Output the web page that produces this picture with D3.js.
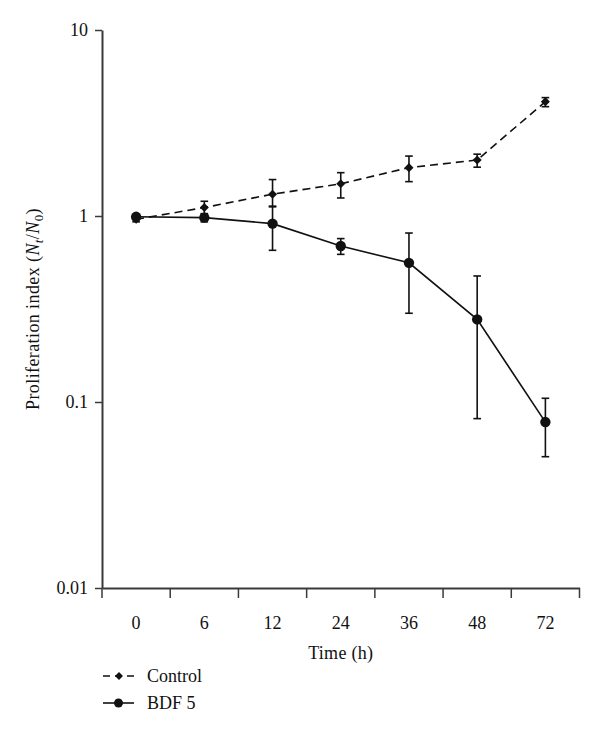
<!DOCTYPE html>
<html><head><meta charset="utf-8">
<script src="https://cdn.jsdelivr.net/npm/d3@7"></script>
<style>body{margin:0;background:#fff}</style>
</head><body>
<svg id="c" width="600" height="734"></svg>
<script>
const categories = ["0","6","12","24","36","48","72"];
const controlMean = [0.96,1.11,1.31,1.49,1.82,2.0,4.12];
const controlLow  = [0.93,1.02,1.12,1.25,1.53,1.83,3.87];
const controlHigh = [0.99,1.20,1.57,1.71,2.10,2.15,4.33];
const bdfMean = [0.99,0.98,0.91,0.69,0.56,0.278,0.078];
const bdfLow  = [0.97,0.93,0.654,0.622,0.30,0.0814,0.0508];
const bdfHigh = [1.01,1.03,1.13,0.756,0.81,0.476,0.1047];
const yTicks = [0.01,0.1,1,10];
const yTickLabels = ["0.01","0.1","1","10"];

(function(){
const svg = d3.select("#c");
const font = "'Liberation Serif', 'DejaVu Serif', serif";
const fs = 18;
const mLeft=102, mRight=579.5, mTop=30, mBottom=588;
const x = d3.scaleBand().domain(categories).range([mLeft,mRight]);
const y = d3.scaleLog().domain([0.01,10]).range([mBottom,mTop]);
const axisColor="#3a3a3a";
const ink="#111";

// y axis
const ya = svg.append("g").attr("transform",`translate(${mLeft},0)`)
  .call(d3.axisLeft(y).tickValues(yTicks).tickFormat((d,i)=>yTickLabels[i]).tickSize(7).tickPadding(7).tickSizeOuter(0));
ya.select(".domain").attr("stroke",axisColor).attr("stroke-width",2);
ya.selectAll(".tick line").attr("stroke",axisColor).attr("stroke-width",1.5);
ya.selectAll("text").attr("font-family",font).attr("font-size",fs).attr("fill",ink);

// x axis
const xa = svg.append("g").attr("transform",`translate(0,${mBottom})`)
  .call(d3.axisBottom(x).tickSize(0).tickPadding(28).tickSizeOuter(0));
xa.select(".domain").attr("stroke",axisColor).attr("stroke-width",2);
xa.selectAll("text").attr("font-family",font).attr("font-size",fs).attr("fill",ink);
const bounds = categories.map(c=>x(c)).concat([x(categories[categories.length-1])+x.bandwidth()]);
svg.append("g").selectAll("line").data(bounds).join("line")
  .attr("x1",d=>d).attr("x2",d=>d).attr("y1",mBottom).attr("y2",mBottom+10)
  .attr("stroke",axisColor).attr("stroke-width",1.5);

const cx = c => x(c)+x.bandwidth()/2;

// axis titles
svg.append("text").attr("x",(mLeft+mRight)/2).attr("y",659).attr("text-anchor","middle")
  .attr("font-family",font).attr("font-size",fs).attr("letter-spacing",0.3).attr("fill",ink).text("Time (h)");
const yl = svg.append("text").attr("transform",`translate(39,${(mTop+mBottom)/2}) rotate(-90)`)
  .attr("text-anchor","middle").attr("font-family",font).attr("font-size",fs).attr("letter-spacing",0.4).attr("fill",ink);
yl.append("tspan").text("Proliferation index (");
yl.append("tspan").attr("font-style","italic").text("N");
yl.append("tspan").attr("font-style","italic").attr("font-size",13).attr("dy",4).text("t");
yl.append("tspan").attr("dy",-4).text("/");
yl.append("tspan").attr("font-style","italic").text("N");
yl.append("tspan").attr("font-size",13).attr("dy",4).text("0");
yl.append("tspan").attr("dy",-4).text(")");

function drawErr(lows, highs){
  const g = svg.append("g").attr("stroke",ink).attr("stroke-width",1.6);
  categories.forEach((c,i)=>{
    const px = cx(c);
    g.append("line").attr("x1",px).attr("x2",px).attr("y1",y(lows[i])).attr("y2",y(highs[i]));
    [lows[i],highs[i]].forEach(v=>g.append("line").attr("x1",px-3.8).attr("x2",px+3.8).attr("y1",y(v)).attr("y2",y(v)));
  });
}
drawErr(controlLow,controlHigh);
drawErr(bdfLow,bdfHigh);

const line = d3.line().x((d,i)=>cx(categories[i])).y(d=>y(d));
svg.append("path").datum(controlMean).attr("d",line).attr("fill","none")
  .attr("stroke",ink).attr("stroke-width",1.6).attr("stroke-dasharray","8,5");
svg.append("path").datum(bdfMean).attr("d",line).attr("fill","none")
  .attr("stroke",ink).attr("stroke-width",1.6);

const diamond = d3.symbol().type(d3.symbolDiamond2).size(52);
svg.append("g").selectAll("path").data(controlMean).join("path")
  .attr("d",diamond).attr("transform",(d,i)=>`translate(${cx(categories[i])},${y(d)})`).attr("fill",ink);
svg.append("g").selectAll("circle").data(bdfMean).join("circle")
  .attr("cx",(d,i)=>cx(categories[i])).attr("cy",d=>y(d)).attr("r",5.2).attr("fill",ink);

// legend
const lg = svg.append("g");
lg.append("line").attr("x1",103).attr("x2",134).attr("y1",676).attr("y2",676)
  .attr("stroke",ink).attr("stroke-width",1.6).attr("stroke-dasharray","7,5");
lg.append("path").attr("d",d3.symbol().type(d3.symbolDiamond2).size(40)).attr("transform","translate(119,676)").attr("fill",ink);
lg.append("text").attr("x",147).attr("y",682).attr("font-family",font).attr("font-size",fs).attr("fill",ink).text("Control");
lg.append("line").attr("x1",103).attr("x2",134).attr("y1",703).attr("y2",703)
  .attr("stroke",ink).attr("stroke-width",1.6);
lg.append("circle").attr("cx",118.5).attr("cy",703).attr("r",4.5).attr("fill",ink);
lg.append("text").attr("x",147).attr("y",709).attr("font-family",font).attr("font-size",fs).attr("fill",ink).text("BDF 5");
})();
</script>
</body></html>
